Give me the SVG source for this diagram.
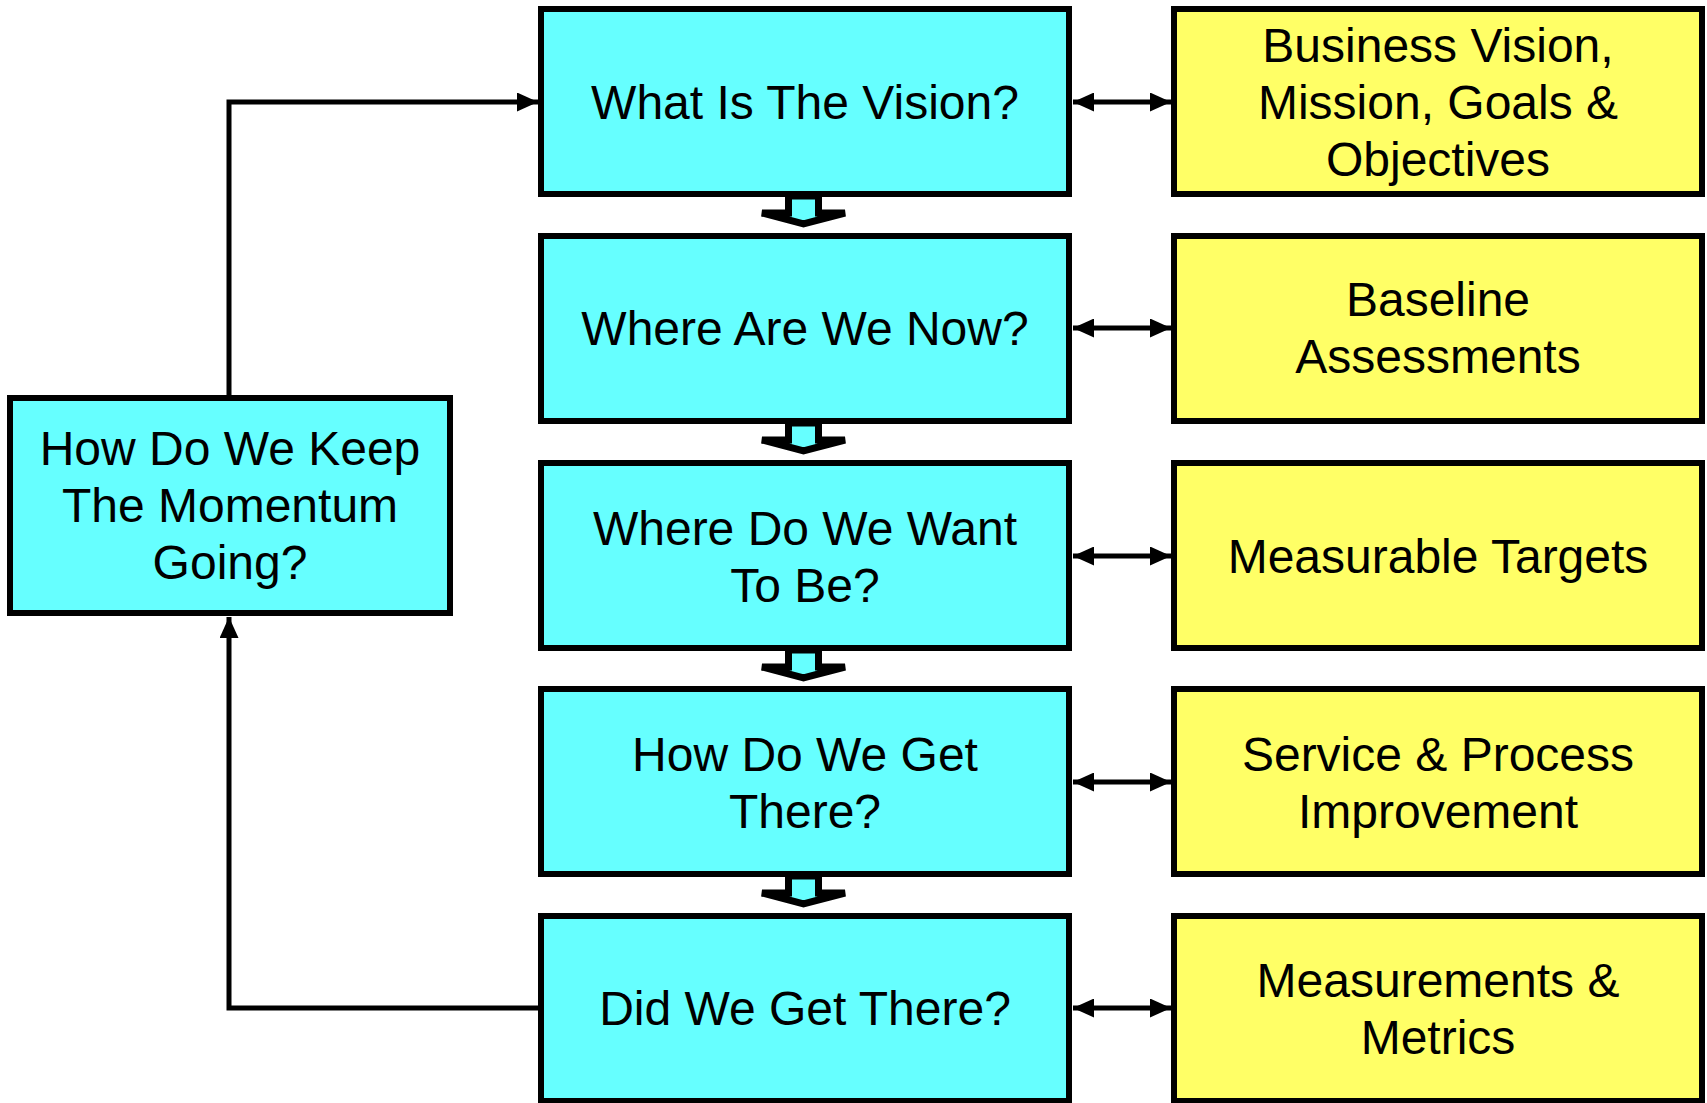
<svg xmlns="http://www.w3.org/2000/svg" width="1707" height="1103" viewBox="0 0 1707 1103">
  <style>
    .q { fill: #66FFFF; stroke: #000; stroke-width: 6; }
    .a { fill: #FFFF66; stroke: #000; stroke-width: 6; }
    .t { font-family: "Liberation Sans", Arial, sans-serif; font-size: 48px; fill: #000; text-anchor: middle; }
    .c { fill: none; stroke: #000; stroke-width: 5; }
    .blk { fill: #66FFFF; stroke: #000; stroke-width: 7; stroke-linejoin: miter; }
  </style>
  <defs>
    <marker id="ah" viewBox="0 0 21 19" markerUnits="userSpaceOnUse" markerWidth="21" markerHeight="19" refX="21" refY="9.5" orient="auto-start-reverse">
      <path d="M0,0 L21,9.5 L0,19 z" fill="#000"/>
    </marker>
  </defs>
  <rect width="1707" height="1103" fill="#fff"/>

  <g id="connectors">
    <path class="c" d="M229,395 L229,102 L538,102" marker-end="url(#ah)"/>
    <path class="c" d="M538,1008 L229,1008 L229,617" marker-end="url(#ah)"/>
    <line class="c" x1="1073" y1="102" x2="1171" y2="102" marker-start="url(#ah)" marker-end="url(#ah)"/>
    <line class="c" x1="1073" y1="328" x2="1171" y2="328" marker-start="url(#ah)" marker-end="url(#ah)"/>
    <line class="c" x1="1073" y1="556" x2="1171" y2="556" marker-start="url(#ah)" marker-end="url(#ah)"/>
    <line class="c" x1="1073" y1="782" x2="1171" y2="782" marker-start="url(#ah)" marker-end="url(#ah)"/>
    <line class="c" x1="1073" y1="1008" x2="1171" y2="1008" marker-start="url(#ah)" marker-end="url(#ah)"/>
    <polygon class="blk" points="788.5,196 818.5,196 818.5,213 845,213 803.5,224 762,213 788.5,213"/>
    <polygon class="blk" points="788.5,423 818.5,423 818.5,440 845,440 803.5,451 762,440 788.5,440"/>
    <polygon class="blk" points="788.5,650 818.5,650 818.5,667 845,667 803.5,678 762,667 788.5,667"/>
    <polygon class="blk" points="788.5,876 818.5,876 818.5,893 845,893 803.5,904 762,893 788.5,893"/>
  </g>

  <g id="q1">
    <rect class="q" x="541" y="9" width="528" height="185"/>
    <text class="t" x="805" y="119">What Is The Vision?</text>
  </g>
  <g id="q2">
    <rect class="q" x="541" y="236" width="528" height="185"/>
    <text class="t" x="805" y="345">Where Are We Now?</text>
  </g>
  <g id="q3">
    <rect class="q" x="541" y="463" width="528" height="185"/>
    <text class="t" x="805" y="545">Where Do We Want</text>
    <text class="t" x="805" y="602">To Be?</text>
  </g>
  <g id="q4">
    <rect class="q" x="541" y="689" width="528" height="185"/>
    <text class="t" x="805" y="771">How Do We Get</text>
    <text class="t" x="805" y="828">There?</text>
  </g>
  <g id="q5">
    <rect class="q" x="541" y="916" width="528" height="185"/>
    <text class="t" x="805" y="1025">Did We Get There?</text>
  </g>
  <g id="momentum">
    <rect class="q" x="10" y="398" width="440" height="215"/>
    <text class="t" x="230" y="465">How Do We Keep</text>
    <text class="t" x="230" y="522">The Momentum</text>
    <text class="t" x="230" y="579">Going?</text>
  </g>

  <g id="a1">
    <rect class="a" x="1174" y="9" width="528" height="185"/>
    <text class="t" x="1438" y="62">Business Vision,</text>
    <text class="t" x="1438" y="119">Mission, Goals &amp;</text>
    <text class="t" x="1438" y="176">Objectives</text>
  </g>
  <g id="a2">
    <rect class="a" x="1174" y="236" width="528" height="185"/>
    <text class="t" x="1438" y="316">Baseline</text>
    <text class="t" x="1438" y="373">Assessments</text>
  </g>
  <g id="a3">
    <rect class="a" x="1174" y="463" width="528" height="185"/>
    <text class="t" x="1438" y="573">Measurable Targets</text>
  </g>
  <g id="a4">
    <rect class="a" x="1174" y="689" width="528" height="185"/>
    <text class="t" x="1438" y="771">Service &amp; Process</text>
    <text class="t" x="1438" y="828">Improvement</text>
  </g>
  <g id="a5">
    <rect class="a" x="1174" y="916" width="528" height="185"/>
    <text class="t" x="1438" y="997">Measurements &amp;</text>
    <text class="t" x="1438" y="1054">Metrics</text>
  </g>
</svg>
